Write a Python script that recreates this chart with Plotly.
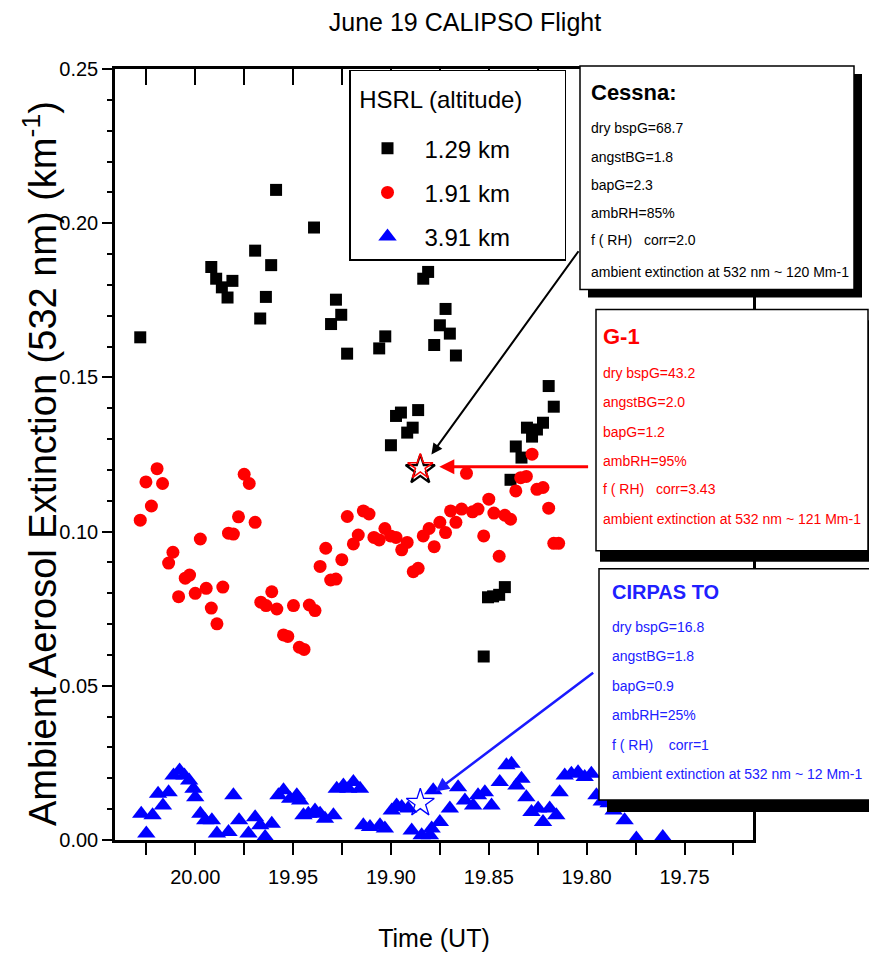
import plotly.graph_objects as go

# ---- HSRL extinction at three altitudes (time in UT hours, extinction in km^-1) ----
time_129 = [20.0281, 19.9587, 19.9393, 19.9694, 19.9612, 19.9918, 19.9893, 19.9864, 19.9810,
            19.9835, 19.9639, 19.9668, 19.9281, 19.9254, 19.9306, 19.9224, 19.9029, 19.9060,
            19.8810, 19.8835, 19.8721, 19.8750, 19.8699, 19.8779, 19.8668, 19.8949, 19.8974,
            19.8861, 19.8889, 19.8917, 19.9000, 19.8194, 19.8168, 19.8223, 19.8254, 19.8305,
            19.8279, 19.8362, 19.8333, 19.8389, 19.8418, 19.8447, 19.8478, 19.8504, 19.8526]
ext_129 = [0.1630, 0.2108, 0.1986, 0.1911, 0.1864, 0.1858, 0.1820, 0.1792, 0.1813,
           0.1759, 0.1761, 0.1691, 0.1752, 0.1703, 0.1673, 0.1577, 0.1633, 0.1594,
           0.1842, 0.1820, 0.1722, 0.1669, 0.1642, 0.1605, 0.1571, 0.1386, 0.1375,
           0.1394, 0.1337, 0.1321, 0.1280, 0.1472, 0.1405, 0.1353, 0.1331, 0.1337,
           0.1308, 0.1276, 0.1240, 0.1168, 0.0820, 0.0795, 0.0790, 0.0787, 0.0595]

time_191 = [20.0281, 20.0252, 20.0224, 20.0195, 20.0167, 20.0136, 20.0114, 20.0085, 20.0051,
            20.0029, 20.0000, 19.9974, 19.9944, 19.9918, 19.9889, 19.9859, 19.9830, 19.9805,
            19.9779, 19.9750, 19.9724, 19.9694, 19.9665, 19.9638, 19.9609, 19.9583, 19.9549,
            19.9527, 19.9498, 19.9468, 19.9444, 19.9417, 19.9388, 19.9362, 19.9333, 19.9308,
            19.9281, 19.9251, 19.9223, 19.9192, 19.9167, 19.9141, 19.9112, 19.9087, 19.9060,
            19.9031, 19.9002, 19.8974, 19.8945, 19.8917, 19.8886, 19.8861, 19.8835, 19.8805,
            19.8779, 19.8750, 19.8721, 19.8695, 19.8668, 19.8639, 19.8614, 19.8583, 19.8555,
            19.8526, 19.8500, 19.8474, 19.8447, 19.8418, 19.8389, 19.8362, 19.8337, 19.8308,
            19.8279, 19.8254, 19.8223, 19.8194, 19.8168, 19.8143]
ext_191 = [0.1037, 0.1161, 0.1083, 0.1204, 0.1156, 0.0898, 0.0933, 0.0789, 0.0849,
           0.0859, 0.0800, 0.0976, 0.0816, 0.0752, 0.0701, 0.0820, 0.0995, 0.0992,
           0.1048, 0.1186, 0.1156, 0.1030, 0.0771, 0.0760, 0.0805, 0.0749, 0.0665,
           0.0660, 0.0760, 0.0625, 0.0618, 0.0762, 0.0744, 0.0887, 0.0946, 0.0843,
           0.0846, 0.0909, 0.1049, 0.0960, 0.0989, 0.1067, 0.1057, 0.0981, 0.0973,
           0.1010, 0.0986, 0.0981, 0.0941, 0.0965, 0.0870, 0.0881, 0.0986, 0.1010,
           0.0951, 0.1030, 0.0997, 0.1067, 0.1030, 0.1073, 0.1189, 0.1064, 0.1073,
           0.0986, 0.1105, 0.1060, 0.0920, 0.1053, 0.1040, 0.1132, 0.1175, 0.1179,
           0.1251, 0.1137, 0.1143, 0.1076, 0.0962, 0.0962]

time_391 = [20.0276, 20.0250, 20.0218, 20.0190, 20.0165, 20.0136, 20.0111, 20.0080, 20.0055,
            20.0031, 20.0009, 20.0000, 19.9974, 19.9949, 19.9915, 19.9889, 19.9830, 19.9805,
            19.9776, 19.9728, 19.9694, 19.9668, 19.9643, 19.9609, 19.9575, 19.9549, 19.9515,
            19.9481, 19.9464, 19.9447, 19.9422, 19.9388, 19.9362, 19.9337, 19.9294, 19.9277,
            19.9243, 19.9218, 19.9192, 19.9158, 19.9141, 19.9107, 19.9056, 19.9031, 19.8996,
            19.8971, 19.8945, 19.8912, 19.8894, 19.8843, 19.8801, 19.8784, 19.8792, 19.8750,
            19.8699, 19.8657, 19.8622, 19.8580, 19.8555, 19.8520, 19.8486, 19.8444, 19.8410,
            19.8384, 19.8359, 19.8333, 19.8308, 19.8282, 19.8248, 19.8223, 19.8189, 19.8155,
            19.8138, 19.8112, 19.8078, 19.8044, 19.8010, 19.7976, 19.7950, 19.7923, 19.7888,
            19.7862, 19.7806, 19.7746, 19.7611]
ext_391 = [0.0085, 0.0021, 0.0080, 0.0150, 0.0112, 0.0155, 0.0209, 0.0225, 0.0209,
           0.0193, 0.0166, 0.0139, 0.0085, 0.0064, 0.0064, 0.0021, 0.0026, 0.0145,
           0.0064, 0.0021, 0.0074, 0.0048, 0.0010, 0.0053, 0.0145, 0.0161, 0.0134,
           0.0145, 0.0128, 0.0080, 0.0085, 0.0096, 0.0085, 0.0069, 0.0080, 0.0166,
           0.0177, 0.0166, 0.0188, 0.0166, 0.0048, 0.0042, 0.0048, 0.0037, 0.0096,
           0.0112, 0.0107, 0.0102, 0.0031, 0.0015, 0.0015, 0.0161, 0.0037, 0.0058,
           0.0102, 0.0171, 0.0128, 0.0112, 0.0145, 0.0155, 0.0112, 0.0188, 0.0242,
           0.0247, 0.0177, 0.0199, 0.0139, 0.0091, 0.0102, 0.0058, 0.0102, 0.0080,
           0.0155, 0.0209, 0.0215, 0.0220, 0.0204, 0.0215, 0.0145, 0.0125, 0.0119,
           0.0096, 0.0064, 0.0005, 0.0010]

series_names = ["1.29 km", "1.91 km", "3.91 km"]

# ---- in-situ aircraft ambient extinction at the overpass time ----
overpass_time = 19.885
cessna_ext = 0.120   # 120 Mm-1
g1_ext = 0.121       # 121 Mm-1
cirpas_ext = 0.012   # 12 Mm-1

# ---- axis settings ----
x_range = [20.041, 19.715]
y_range = [0.0, 0.25]

FONT = "Liberation Sans, Arial, sans-serif"

# plot area in page pixels
L, R, T, B = 115, 753, 69, 842
W, H = 869, 960


def px_x(px):
    return (px - L) / (R - L)


def px_y(py):
    return (B - py) / (B - T)


fig = go.Figure()

fig.add_trace(go.Scatter(x=time_129, y=ext_129, mode="markers", name=series_names[0],
                         legendgroup="a",
                         marker=dict(symbol="square", size=12, color="#000000")))
fig.add_trace(go.Scatter(x=time_191, y=ext_191, mode="markers", name=series_names[1],
                         legendgroup="b",
                         marker=dict(symbol="circle", size=13, color="#ff0000")))
fig.add_trace(go.Scatter(x=time_391, y=ext_391, mode="markers", name=series_names[2],
                         legendgroup="c",
                         marker=dict(symbol="triangle-up", size=16, color="#0000ff")))

# aircraft values as open stars
fig.add_trace(go.Scatter(x=[overpass_time], y=[cessna_ext], mode="markers", showlegend=False,
                         marker=dict(symbol="star-open", size=22, color="#000000",
                                     line=dict(width=2.2, color="#000000"))))
fig.add_trace(go.Scatter(x=[overpass_time], y=[g1_ext], mode="markers", showlegend=False,
                         marker=dict(symbol="star-open", size=19, color="#ff0000",
                                     line=dict(width=1.6, color="#ff0000"))))
fig.add_trace(go.Scatter(x=[overpass_time], y=[cirpas_ext], mode="markers", showlegend=False,
                         marker=dict(symbol="star-open", size=21, color="#0000ff",
                                     line=dict(width=1.3, color="#0000ff"))))

# empty trace carrying the top axis (inward ticks)
fig.add_trace(go.Scatter(x=[], y=[], xaxis="x2", showlegend=False, hoverinfo="skip"))

shapes = []


def box(x0, y0, x1, y1, shadow_dx, shadow_dy):
    shapes.append(dict(type="rect", xref="paper", yref="paper", layer="above",
                       x0=px_x(x0 + shadow_dx), x1=px_x(x1 + shadow_dx),
                       y0=px_y(y1 + shadow_dy), y1=px_y(y0 + shadow_dy),
                       fillcolor="#000000", line=dict(width=0)))
    shapes.append(dict(type="rect", xref="paper", yref="paper", layer="above",
                       x0=px_x(x0), x1=px_x(x1), y0=px_y(y1), y1=px_y(y0),
                       fillcolor="#ffffff", line=dict(color="#000000", width=1.5)))


box(580, 66, 854, 290, 8, 8)     # Cessna
box(596, 310, 868, 552, 4, 11)   # G-1
box(599, 570, 880, 802, 8, 12)   # CIRPAS

annotations = []


def text_block(x_left, title, title_y, title_size, lines, line_ys, color):
    annotations.append(dict(xref="paper", yref="paper", x=px_x(x_left), y=px_y(title_y),
                            xanchor="left", yanchor="middle", showarrow=False,
                            text="<b>" + title + "</b>",
                            font=dict(family=FONT, size=title_size, color=color)))
    for t, ly in zip(lines, line_ys):
        annotations.append(dict(xref="paper", yref="paper", x=px_x(x_left), y=px_y(ly),
                                xanchor="left", yanchor="middle", showarrow=False,
                                text=t, font=dict(family=FONT, size=14, color=color)))


nb = "\u00a0"
text_block(589, "Cessna:", 93, 22,
           ["dry bspG=68.7", "angstBG=1.8", "bapG=2.3", "ambRH=85%",
            f"f{nb}({nb}RH){nb}{nb}{nb}corr=2.0",
            "ambient extinction at 532 nm ~ 120 Mm-1"],
           [128, 157, 185, 213, 240, 273], "#000000")
text_block(601, "G-1", 337, 22,
           ["dry bspG=43.2", "angstBG=2.0", "bapG=1.2", "ambRH=95%",
            f"f{nb}({nb}RH){nb}{nb}{nb}corr=3.43",
            "ambient extinction at 532 nm ~ 121 Mm-1"],
           [374, 403, 433, 462, 490, 520], "#ff0000")
text_block(610, "CIRPAS TO", 593, 20,
           ["dry bspG=16.8", "angstBG=1.8", "bapG=0.9", "ambRH=25%",
            f"f{nb}({nb}RH){nb}{nb}{nb}{nb}corr=1",
            "ambient extinction at 532 nm ~ 12 Mm-1"],
           [628, 658, 688, 717, 747, 776], "#2020ff")

# arrows from each box to the matching star
annotations.append(dict(x=overpass_time, y=cessna_ext, xref="x", yref="y",
                        ax=19.8036, ay=0.1914, axref="x", ayref="y", text="",
                        showarrow=True, arrowhead=2, arrowsize=1.1, arrowwidth=2,
                        arrowcolor="#000000", standoff=19))
annotations.append(dict(x=overpass_time, y=g1_ext, xref="x", yref="y",
                        ax=19.7985, ay=g1_ext, axref="x", ayref="y", text="",
                        showarrow=True, arrowhead=2, arrowsize=1.0, arrowwidth=3,
                        arrowcolor="#ff0000", standoff=19))
annotations.append(dict(x=overpass_time, y=cirpas_ext, xref="x", yref="y",
                        ax=19.7959, ay=0.0546, axref="x", ayref="y", text="",
                        showarrow=True, arrowhead=2, arrowsize=1.1, arrowwidth=2.5,
                        arrowcolor="#1a1aff", standoff=19))

# vertical axis title
annotations.append(dict(xref="paper", yref="paper", x=px_x(40), y=px_y(465),
                        xanchor="center", yanchor="middle", showarrow=False, textangle=-90,
                        text="Ambient Aerosol Extinction (532 nm) (km<sup>-1</sup>)",
                        font=dict(family=FONT, size=38, color="#000000")))

legend_title = (nb + "<br><span style='font-size:24px'>" + nb + "HSRL (altitude)" + nb * 6
                + "</span><br>" + nb)

fig.update_layout(
    width=W, height=H,
    margin=dict(l=L, r=W - R, t=T, b=H - B, pad=0),
    paper_bgcolor="#ffffff", plot_bgcolor="#ffffff",
    font=dict(family=FONT, color="#000000"),
    title=dict(text="June 19 CALIPSO Flight", x=px_x(465), xref="paper", xanchor="center",
               y=1 - 22 / H, yanchor="middle", font=dict(size=25, color="#000000")),
    xaxis=dict(range=x_range, dtick=0.05, tick0=20.0, tickformat=".2f",
               showgrid=False, zeroline=False,
               showline=True, linecolor="#000000", linewidth=2.5, mirror=True,
               ticks="outside", ticklen=12, tickwidth=1.5, tickcolor="#000000",
               ticklabelstandoff=5,
               minor=dict(dtick=0.025, tick0=20.0, ticks="outside", ticklen=12,
                          tickwidth=1.5, tickcolor="#000000", showgrid=False),
               tickfont=dict(size=20),
               title=dict(text="Time (UT)", font=dict(size=25), standoff=43)),
    xaxis2=dict(range=x_range, overlaying="x", side="top", anchor="y",
                dtick=0.05, tick0=20.0, showticklabels=False, showgrid=False,
                zeroline=False, showline=False,
                ticks="inside", ticklen=16, tickwidth=1.5, tickcolor="#000000",
                minor=dict(dtick=0.025, tick0=20.0, ticks="inside", ticklen=16,
                           tickwidth=1.5, tickcolor="#000000", showgrid=False)),
    yaxis=dict(range=y_range, dtick=0.05, tick0=0, tickformat=".2f",
               showgrid=False, zeroline=False,
               showline=True, linecolor="#000000", linewidth=2.5, mirror=True,
               ticks="outside", ticklen=10, tickwidth=1.5, tickcolor="#000000",
               minor=dict(dtick=0.01, ticks="outside", ticklen=5, tickwidth=1.5,
                          tickcolor="#000000", showgrid=False),
               tickfont=dict(size=20)),
    legend=dict(x=px_x(349), y=px_y(70), xanchor="left", yanchor="top",
                bgcolor="#ffffff", bordercolor="#000000", borderwidth=1.5,
                font=dict(size=24, color="#000000"),
                title=dict(text=legend_title, font=dict(size=14)),
                itemwidth=64, tracegroupgap=10),
    shapes=shapes,
    annotations=annotations,
    showlegend=True,
)

fig.write_html("out.html")
